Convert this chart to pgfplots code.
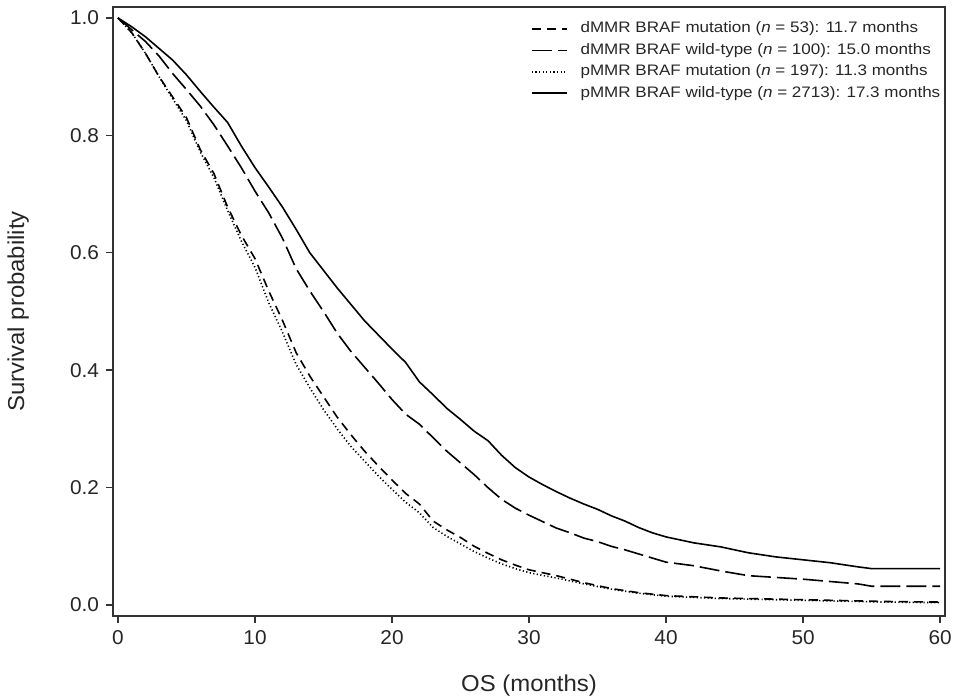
\documentclass[border=0pt]{standalone}
\usepackage{fontspec}
\setmainfont[FakeStretch=1.04]{Liberation Sans}
\newfontfamily\legfont[FakeStretch=1.12]{Liberation Sans}
\usepackage{pgfplots}
\pgfplotsset{compat=1.18}
\pgfplotstableset{col sep=space}
\pgfplotstableread{
t s
0 1.000
1 0.985
2 0.968
3 0.948
4 0.928
5 0.903
6 0.875
7 0.848
8 0.822
9 0.782
10 0.745
11 0.712
12 0.678
13 0.640
14 0.600
15 0.570
16 0.540
17 0.512
18 0.484
19 0.460
20 0.436
21 0.413
22 0.380
23 0.358
24 0.335
25 0.316
26 0.296
27 0.280
28 0.255
29 0.234
30 0.218
31 0.205
32 0.193
33 0.182
34 0.172
35 0.163
36 0.152
37 0.143
38 0.132
39 0.123
40 0.116
42 0.106
44 0.099
46 0.089
48 0.082
50 0.077
52 0.072
54 0.065
55 0.062
60 0.062
}\pwt
\pgfplotstableread{
t s
0 1.000
1 0.980
2 0.960
3 0.935
4 0.905
5 0.878
6 0.850
7 0.818
8 0.782
9 0.745
10 0.705
11 0.668
12 0.625
13 0.573
14 0.535
15 0.500
16 0.463
17 0.432
18 0.405
19 0.378
20 0.350
21 0.325
22 0.308
23 0.285
24 0.262
25 0.242
26 0.222
27 0.200
28 0.180
29 0.165
30 0.153
31 0.142
32 0.131
33 0.123
34 0.114
35 0.108
36 0.100
37 0.094
38 0.087
39 0.080
40 0.073
42 0.067
44 0.058
46 0.050
48 0.047
50 0.044
52 0.040
54 0.036
55 0.032
60 0.032
}\dwt
\pgfplotstableread{
t s
0 1.000
1 0.975
2 0.940
3 0.900
4 0.865
5 0.830
6 0.776
7 0.735
8 0.678
9 0.630
10 0.590
11 0.535
12 0.485
13 0.430
14 0.390
15 0.355
16 0.320
17 0.290
18 0.262
19 0.237
20 0.213
21 0.190
22 0.172
23 0.143
24 0.128
25 0.115
26 0.100
27 0.088
28 0.077
29 0.068
30 0.060
32 0.050
34 0.038
36 0.028
38 0.021
40 0.016
44 0.012
48 0.010
52 0.008
56 0.006
60 0.005
}\dmut
\pgfplotstableread{
t s
0 1.000
1 0.975
2 0.940
3 0.900
4 0.862
5 0.825
6 0.772
7 0.728
8 0.672
9 0.620
10 0.575
11 0.515
12 0.465
13 0.410
14 0.370
15 0.333
16 0.300
17 0.270
18 0.245
19 0.220
20 0.197
21 0.175
22 0.157
23 0.132
24 0.117
25 0.104
26 0.091
27 0.080
28 0.070
29 0.062
30 0.055
32 0.046
34 0.036
36 0.027
38 0.020
40 0.015
44 0.011
48 0.009
52 0.007
56 0.005
60 0.004
}\pmut
\begin{document}
\begin{tikzpicture}
\useasboundingbox (-56.5pt,-41.5pt) rectangle (420pt,308pt);
\begin{axis}[
  scale only axis, width=416pt, height=304.5pt,
  xmin=-0.365, xmax=60.36, ymin=-0.0187, ymax=1.0187,
  xtick={0,10,20,30,40,50,60}, ytick={0,0.2,0.4,0.6,0.8,1.0},
  yticklabel style={/pgf/number format/.cd, fixed, fixed zerofill, precision=1},
  /pgf/number format/assume math mode=true,
  tick align=outside, major tick length=3.5pt, tick pos=left,
  tick style={black!80, line width=0.7pt},
  axis line style={black!80, line width=0.8pt},
  ticklabel style={font=\fontsize{10}{12}\selectfont, text=black!85},
  xlabel={OS (months)}, ylabel={Survival probability},
  label style={font=\fontsize{11.5}{13}\selectfont, text=black!85},
  xlabel style={at={(axis description cs:0.5,-0.115)}, anchor=center},
  ylabel style={at={(axis description cs:-0.114,0.5)}, anchor=center},
  legend style={at={(axis description cs:1.002,0.986)}, anchor=north east,
    draw=none, fill=none, font=\legfont\fontsize{7.6}{8.6}\selectfont, text=black!85,
    row sep=-0.3pt, inner sep=1pt},
  legend cell align=left,
  legend image code/.code={\draw[#1] (0pt,0pt) -- (17.5pt,0pt); \path (22pt,0pt);},
  every axis plot/.append style={black, line width=0.8pt},
]
\addplot[dash pattern=on 4.5pt off 3pt] table[x=t,y=s] {\dmut};
\addlegendentry{dMMR BRAF mutation (\textit{n} = 53): 11.7 months}
\addplot[dash pattern=on 10pt off 3pt] table[x=t,y=s] {\dwt};
\addlegendentry{dMMR BRAF wild-type (\textit{n} = 100): 15.0 months}
\addplot[dash pattern=on 0.6pt off 1.2pt] table[x=t,y=s] {\pmut};
\addlegendentry{pMMR BRAF mutation (\textit{n} = 197): 11.3 months}
\addplot[solid] table[x=t,y=s] {\pwt};
\addlegendentry{pMMR BRAF wild-type (\textit{n} = 2713): 17.3 months}
\end{axis}
\end{tikzpicture}
\end{document}
